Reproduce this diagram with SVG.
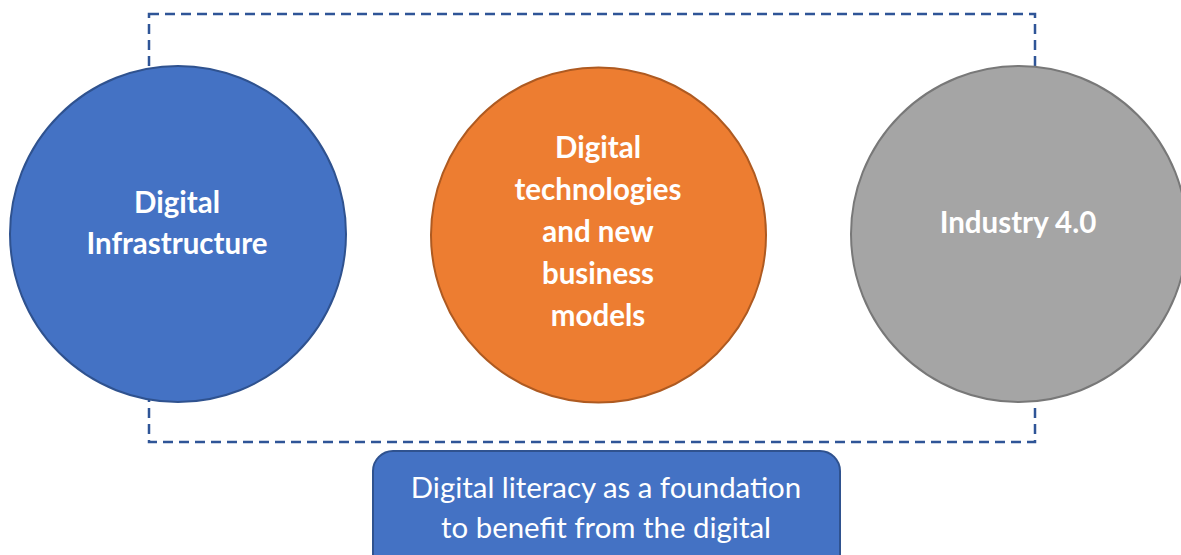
<svg xmlns="http://www.w3.org/2000/svg" width="1181" height="555" viewBox="0 0 1181 555">
  <style>
    .frame { fill: none; stroke: #2F5597; stroke-width: 2.5; stroke-dasharray: 10 6; }
    .lbl { font-family: Lato, "Open Sans", sans-serif; font-weight: bold; font-size: 29.5px; fill: #ffffff; text-anchor: middle; }
    .note { font-family: Lato, "Open Sans", sans-serif; font-size: 29.4px; fill: #ffffff; text-anchor: middle; }
  </style>
  <rect width="1181" height="555" fill="#ffffff"/>

  <!-- dashed enclosing frame -->
  <g id="connectors">
    <rect class="frame" x="149" y="14" width="886" height="428"/>
  </g>

  <g id="infrastructure">
    <circle cx="178" cy="234" r="168" fill="#4472C4" stroke="#2F528F" stroke-width="2"/>
    <text class="lbl" x="177" y="213">Digital</text>
    <text class="lbl" x="177" y="254">Infrastructure</text>
  </g>

  <g id="technologies">
    <circle cx="598.5" cy="235" r="167.5" fill="#ED7D31" stroke="#AE5A21" stroke-width="2"/>
    <text class="lbl" x="598" y="158">Digital</text>
    <text class="lbl" x="598" y="200">technologies</text>
    <text class="lbl" x="598" y="242">and new</text>
    <text class="lbl" x="598" y="284">business</text>
    <text class="lbl" x="598" y="326">models</text>
  </g>

  <g id="industry">
    <circle cx="1019" cy="234" r="168" fill="#A5A5A5" stroke="#787878" stroke-width="2"/>
    <text class="lbl" x="1018" y="233">Industry 4.0</text>
  </g>

  <g id="literacy">
    <rect x="373" y="451" width="467" height="130" rx="20" fill="#4472C4" stroke="#2F528F" stroke-width="2"/>
    <text class="note" x="606" y="498">Digital literacy as a foundation</text>
    <text class="note" x="606" y="538">to benefit from the digital</text>
  </g>
</svg>
